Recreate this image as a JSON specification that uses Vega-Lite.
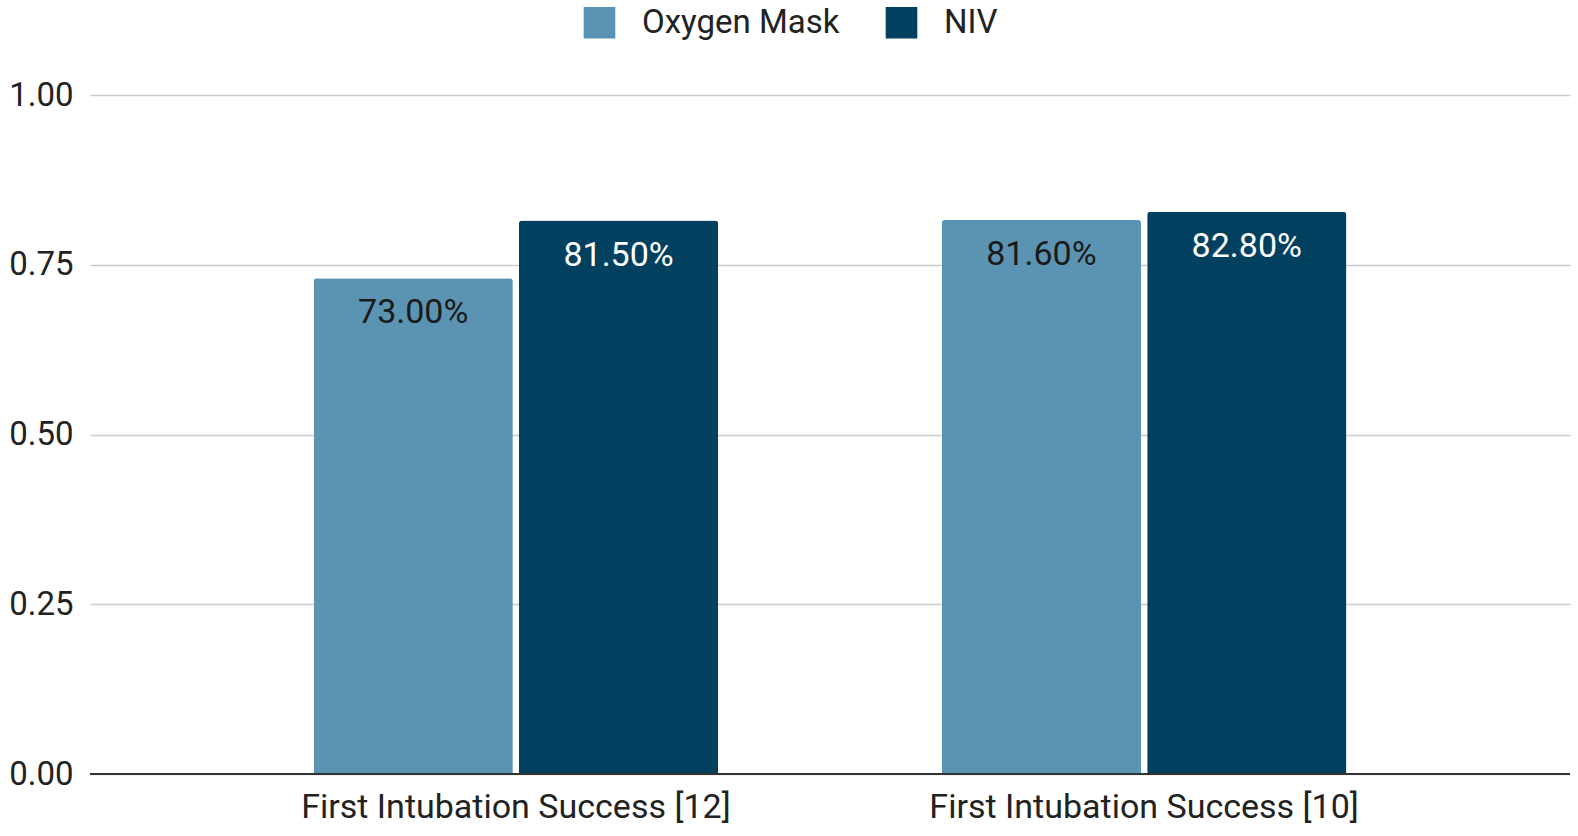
{
  "$schema": "https://vega.github.io/schema/vega-lite/v6.json",
  "width": 1480,
  "height": 679,
  "autosize": {"type": "none"},
  "padding": {"left": 90, "top": 95, "right": 8, "bottom": 62},
  "background": "white",
  "config": {
    "font": "Roboto",
    "view": {"stroke": null},
    "axis": {"labelFont": "Roboto", "labelColor": "#222222"},
    "legend": {"labelFont": "Roboto"}
  },
  "data": {
    "values": [
      {"metric": "First Intubation Success [12]", "group": "Oxygen Mask", "value": 0.73},
      {"metric": "First Intubation Success [12]", "group": "NIV", "value": 0.815},
      {"metric": "First Intubation Success [10]", "group": "Oxygen Mask", "value": 0.816},
      {"metric": "First Intubation Success [10]", "group": "NIV", "value": 0.828}
    ]
  },
  "encoding": {
    "x": {
      "field": "metric",
      "type": "nominal",
      "sort": null,
      "title": null,
      "scale": {"paddingInner": 0.356, "paddingOuter": 0.356},
      "axis": {"labelAngle": 0, "labelFontSize": 34, "labelLimit": 1000, "ticks": false, "domain": false, "labelPadding": 16}
    },
    "xOffset": {
      "field": "group",
      "sort": ["Oxygen Mask", "NIV"],
      "scale": {"paddingInner": 0.03, "paddingOuter": 0}
    },
    "y": {
      "field": "value",
      "type": "quantitative",
      "title": null,
      "scale": {"domain": [0, 1]},
      "axis": {
        "values": [0, 0.25, 0.5, 0.75, 1],
        "format": ".2f",
        "labelFontSize": 33,
        "ticks": false,
        "domain": false,
        "labelPadding": 17,
        "gridColor": "#cccccc",
        "gridWidth": 1.5
      }
    }
  },
  "layer": [
    {
      "mark": {"type": "bar", "cornerRadiusTopLeft": 3, "cornerRadiusTopRight": 3},
      "encoding": {
        "color": {
          "field": "group",
          "type": "nominal",
          "sort": ["Oxygen Mask", "NIV"],
          "scale": {"domain": ["Oxygen Mask", "NIV"], "range": ["#5b94b2", "#02405f"]},
          "legend": {
            "orient": "none",
            "legendX": 493,
            "legendY": -89,
            "title": null,
            "direction": "horizontal",
            "symbolType": "square",
            "symbolSize": 1000,
            "symbolStrokeWidth": 0,
            "labelFontSize": 33,
            "labelLimit": 500,
            "labelColor": "#222222",
            "columnPadding": 45,
            "labelOffset": 26
          }
        }
      }
    },
    {
      "mark": {"type": "rule", "color": "#333333", "strokeWidth": 2},
      "encoding": {"y": {"datum": 0}, "x": null, "xOffset": null}
    },
    {
      "mark": {"type": "text", "baseline": "middle", "dy": 35, "fontSize": 34},
      "encoding": {
        "text": {"field": "value", "type": "quantitative", "format": ".2%"},
        "color": {
          "field": "group",
          "type": "nominal",
          "scale": {"domain": ["Oxygen Mask", "NIV"], "range": ["#1a1a1a", "#ffffff"]},
          "legend": null
        }
      }
    }
  ],
  "resolve": {"scale": {"color": "independent"}}
}
